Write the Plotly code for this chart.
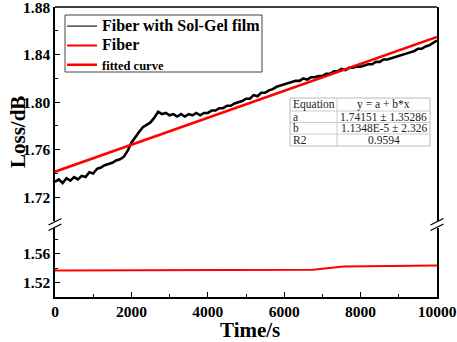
import plotly.graph_objects as go

# ---- data ----
time_s = list(range(0, 10001, 100))
loss_solgel = [
    1.733, 1.735, 1.732, 1.736, 1.734, 1.737, 1.735, 1.738, 1.737, 1.741,
    1.740, 1.744, 1.745, 1.747, 1.748, 1.749, 1.751, 1.752, 1.754, 1.759,
    1.766, 1.771, 1.775, 1.779, 1.781, 1.783, 1.787, 1.792, 1.790, 1.791,
    1.789, 1.790, 1.788, 1.790, 1.788, 1.790, 1.789, 1.791, 1.789, 1.791,
    1.791, 1.793, 1.793, 1.795, 1.795, 1.797, 1.797, 1.799, 1.800, 1.801,
    1.803, 1.803, 1.806, 1.805, 1.808, 1.808, 1.810, 1.811, 1.813, 1.814,
    1.815, 1.816, 1.817, 1.818, 1.818, 1.820, 1.819, 1.821, 1.821, 1.822,
    1.822, 1.824, 1.824, 1.826, 1.826, 1.828, 1.827, 1.829, 1.829, 1.830,
    1.830, 1.831, 1.832, 1.832, 1.834, 1.834, 1.836, 1.836, 1.837, 1.838,
    1.839, 1.840, 1.841, 1.842, 1.843, 1.845, 1.845, 1.847, 1.848, 1.850,
    1.852,
]

fiber_t = [0, 1300, 1350, 6750, 7000, 7550, 10000]
fiber_loss = [1.5370, 1.5372, 1.5378, 1.5379, 1.5393, 1.5425, 1.5439]

# linear fit y = a + b*x (values from the table)
FIT_A = 1.74151
FIT_B = 1.1348e-5
fit_t = [0, 10000]
fit_loss = [FIT_A + FIT_B * t for t in fit_t]

table_labels = ["Equation", "a", "b", "R2"]
table_values = ["y = a + b*x", "1.74151 ± 1.35286", "1.1348E-5 ± 2.326", "0.9594"]

# ---- geometry helpers (pixels -> paper) ----
W, H = 457, 342
ML, MR, MT, MB = 55, 20, 7, 45
PW, PH = W - ML - MR, H - MT - MB


def px(x):
    return (x - ML) / PW


def py(y):
    return (H - MB - y) / PH


FONT = "Liberation Serif, Times New Roman, serif"

fig = go.Figure()

# noisy measured curve (legend shown through a thin proxy below)
fig.add_trace(go.Scatter(x=time_s, y=loss_solgel, mode="lines",
                         line=dict(color="black", width=2.6), showlegend=False,
                         xaxis="x", yaxis="y", hoverinfo="skip"))
fig.add_trace(go.Scatter(x=[None], y=[None], mode="lines",
                         name="<span style='font-size:16px'>Fiber with Sol-Gel film</span>",
                         line=dict(color="#666666", width=1.6), xaxis="x", yaxis="y"))
fig.add_trace(go.Scatter(x=fiber_t, y=fiber_loss, mode="lines",
                         name="<span style='font-size:16px'>Fiber</span>",
                         line=dict(color="red", width=2), xaxis="x", yaxis="y2"))
fig.add_trace(go.Scatter(x=fit_t, y=fit_loss, mode="lines",
                         name="<span style='font-size:12.5px'>fitted curve</span>",
                         line=dict(color="red", width=2.5), xaxis="x", yaxis="y"))

axis_common = dict(showline=True, linecolor="black", linewidth=1.5, ticks="inside",
                   ticklen=5, tickwidth=1.3, tickcolor="black", showgrid=False, zeroline=False,
                   automargin=False, ticklabeloverflow="allow",
                   tickfont=dict(family=FONT, size=15.5, color="black", weight="bold"))

fig.update_layout(
    width=W, height=H,
    margin=dict(l=ML, r=MR, t=MT, b=MB, autoexpand=False),
    paper_bgcolor="white", plot_bgcolor="white",
    font=dict(family=FONT, color="black"),
    xaxis=dict(anchor="y2", range=[0, 10000], dtick=2000, tick0=0, tickformat="d",
               minor=dict(ticks="inside", dtick=1000, ticklen=3, tickcolor="black"),
               **axis_common),
    yaxis=dict(domain=[py(221), 1], range=[1.70, 1.8802], tick0=1.72, dtick=0.04,
               tickformat=".2f", mirror=True, anchor="x",
               minor=dict(ticks="inside", dtick=0.02, ticklen=3, tickcolor="black"),
               **axis_common),
    yaxis2=dict(domain=[0, py(228)], range=[1.50, 1.596], tick0=1.52, dtick=0.04,
                tickformat=".2f", mirror=True, anchor="x",
                minor=dict(ticks="inside", dtick=0.02, ticklen=3, tickcolor="black"),
                **axis_common),
    legend=dict(x=px(62), y=py(11.5), xanchor="left", yanchor="top",
                bgcolor="rgba(0,0,0,0)", borderwidth=0,
                font=dict(family=FONT, size=12.5, color="black", weight="bold"),
                traceorder="normal", itemwidth=30, tracegroupgap=0),
    showlegend=True,
)

shapes = []
# top border of upper panel
shapes.append(dict(type="line", xref="paper", yref="paper", x0=0, x1=1, y0=1, y1=1,
                   line=dict(color="black", width=1.5)))
# legend frame
shapes.append(dict(type="rect", xref="paper", yref="paper", x0=px(65), x1=px(262),
                   y0=py(72), y1=py(15), fillcolor="white",
                   line=dict(color="#444444", width=1)))
# axis break marks on both sides
for xc in (ML, W - MR):
    for dy in (0, 5.5):
        shapes.append(dict(type="line", xref="paper", yref="paper",
                           x0=px(xc - 6.5), y0=py(225 + dy), x1=px(xc + 6.5), y1=py(218.5 + dy),
                           line=dict(color="black", width=1.3)))

# fit result table
tx0, tx1, tdiv = 290, 430, 337
row_edges = [98, 111, 122.5, 134, 146]
shapes.append(dict(type="rect", xref="paper", yref="paper", x0=px(tx0), x1=px(tx1),
                   y0=py(row_edges[-1]), y1=py(row_edges[0]), fillcolor="white",
                   line=dict(color="#bbbbbb", width=1)))
for ye in row_edges[1:-1]:
    shapes.append(dict(type="line", xref="paper", yref="paper", x0=px(tx0), x1=px(tx1),
                       y0=py(ye), y1=py(ye), line=dict(color="#cccccc", width=1)))
shapes.append(dict(type="line", xref="paper", yref="paper", x0=px(tdiv), x1=px(tdiv),
                   y0=py(row_edges[-1]), y1=py(row_edges[0]), line=dict(color="#cccccc", width=1)))

annotations = []
for i, (lab, val) in enumerate(zip(table_labels, table_values)):
    yc = (row_edges[i] + row_edges[i + 1]) / 2
    annotations.append(dict(xref="paper", yref="paper", x=px(tx0 + 2), y=py(yc),
                            xanchor="left", yanchor="middle", text=lab, showarrow=False,
                            borderpad=0,
                            font=dict(family=FONT, size=11.5, color="#222222")))
    annotations.append(dict(xref="paper", yref="paper", x=px((tdiv + tx1) / 2), y=py(yc),
                            xanchor="center", yanchor="middle", text=val, showarrow=False,
                            borderpad=0,
                            font=dict(family=FONT, size=11.5, color="#222222")))

# axis titles
annotations.append(dict(xref="paper", yref="paper", x=px(250), y=py(330), text="Time/s",
                        xanchor="center", yanchor="middle", showarrow=False,
                        font=dict(family=FONT, size=21, color="black", weight="bold")))
annotations.append(dict(xref="paper", yref="paper", x=px(18), y=py(132), text="Loss/dB",
                        textangle=-90, xanchor="center", yanchor="middle", showarrow=False,
                        font=dict(family=FONT, size=21, color="black", weight="bold")))

fig.update_layout(shapes=shapes, annotations=annotations)

# the page's default body margin would shift the figure, so remove it
fig.write_html("out.html", config={"displayModeBar": False},
               post_script="document.body.style.margin='0px';")
